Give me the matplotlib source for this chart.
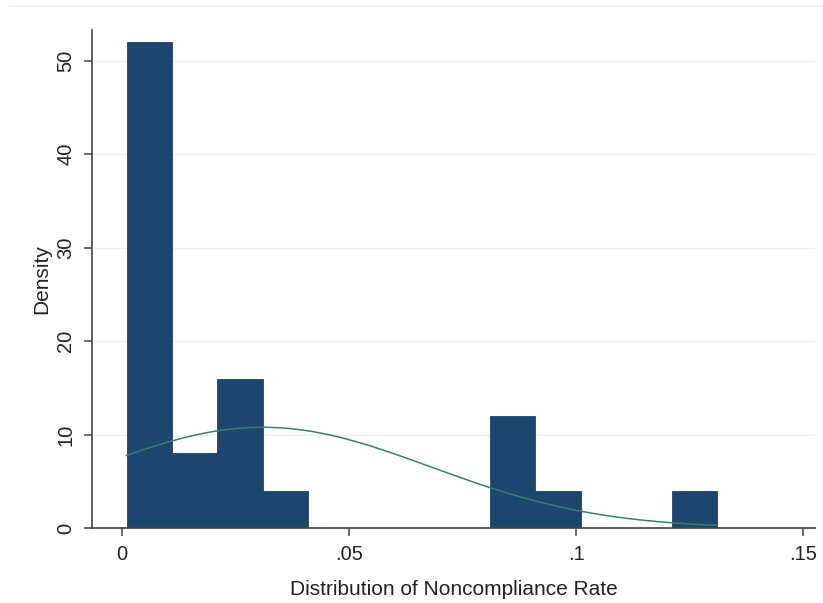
import numpy as np
import matplotlib
matplotlib.use('Agg')
import matplotlib.pyplot as plt
from matplotlib.lines import Line2D

# histogram of noncompliance rate (density scale), bin width 0.01 starting at 0.001
bin_start = 0.001
bin_width = 0.01
density = [52, 8, 16, 4, 0, 0, 0, 0, 12, 4, 0, 0, 4]

# fitted normal overlay
norm_mean = 0.031
norm_sd = 0.037

x_ticks = [0, 0.05, 0.1, 0.15]
x_labels = ['0', '.05', '.1', '.15']
y_ticks = [0, 10, 20, 30, 40, 50]

plt.rcParams['font.family'] = ['Liberation Sans', 'DejaVu Sans']

fig = plt.figure(figsize=(8.23, 6.03), dpi=100)
ax = fig.add_axes([0.1118, 0.1244, 0.8785, 0.8258])

edges = bin_start + bin_width * np.arange(len(density) + 1)
ax.bar(edges[:-1], density, width=bin_width, align='edge',
       color='#1c466d', edgecolor='#1c466d', linewidth=0.6, zorder=2)

xs = np.linspace(edges[0], edges[-1], 300)
ys = np.exp(-(xs - norm_mean) ** 2 / (2 * norm_sd ** 2)) / (norm_sd * np.sqrt(2 * np.pi))
ax.plot(xs, ys, color='#3a7d72', linewidth=1.1, zorder=3)

ax.set_xlim(-0.0066, 0.1526)
ax.set_ylim(0, 53.3)
ax.set_xticks(x_ticks)
ax.set_xticklabels(x_labels)
ax.set_yticks(y_ticks)
ax.set_yticklabels([str(v) for v in y_ticks], rotation=90, va='center')
ax.tick_params(labelsize=14.5, length=6, width=1.1, color='#444444', labelcolor='#222222', pad=6)

for v in y_ticks[1:]:
    ax.axhline(v, color='#eaf1f3', linewidth=1.0, zorder=1)

for s in ['top', 'right']:
    ax.spines[s].set_visible(False)
for s in ['left', 'bottom']:
    ax.spines[s].set_color('#444444')
    ax.spines[s].set_linewidth(1.2)

ax.set_xlabel('Distribution of Noncompliance Rate', fontsize=15, color='#222222', labelpad=12)
ax.set_ylabel('Density', fontsize=15, color='#222222', labelpad=4)

fig.add_artist(Line2D([10 / 823, 1], [1 - 6 / 603, 1 - 6 / 603], color='#eaf1f3', linewidth=1.2))

plt.savefig('out.png', dpi=100)
